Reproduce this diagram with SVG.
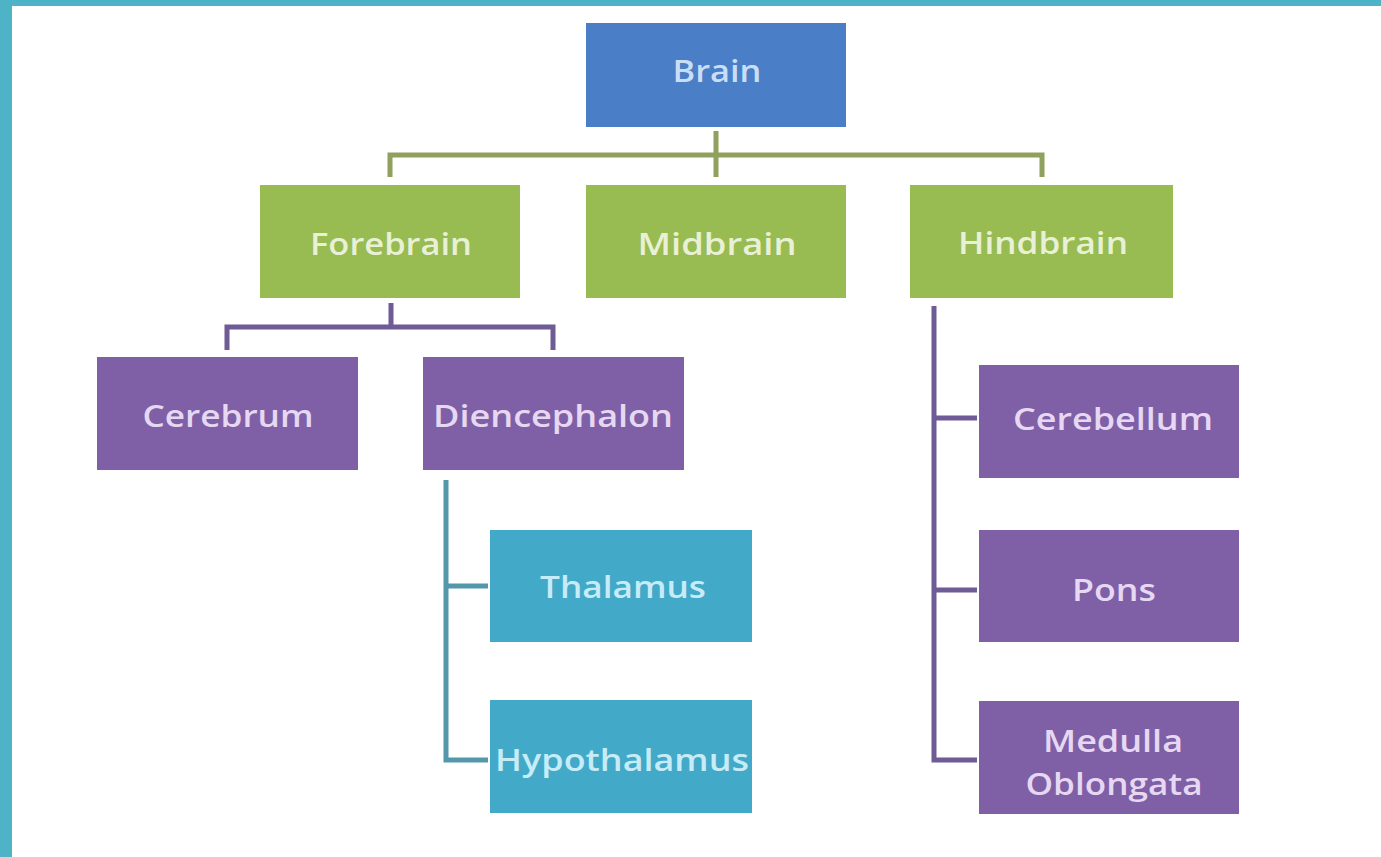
<svg xmlns="http://www.w3.org/2000/svg" width="1381" height="857" viewBox="0 0 1381 857">
<style>
.t{font-family:"Open Sans","Liberation Sans",sans-serif;font-size:31px;font-weight:600;text-anchor:middle}
.blue{fill:#4a7ec6}.green{fill:#98bb52}.purple{fill:#7f60a6}.teal{fill:#43a9c8}
.tb{fill:#c9def5}.tg{fill:#e8f1d5}.tp{fill:#e6d8f2}.tt{fill:#c6ecf7}
.cg{stroke:#8fa15c;stroke-width:5;fill:none}
.cp{stroke:#6f5b96;stroke-width:5;fill:none}
.ct{stroke:#5597aa;stroke-width:5;fill:none}
</style>
<rect x="0" y="0" width="1381" height="857" fill="#ffffff"/>
<rect x="0" y="0" width="1381" height="6" fill="#4fb3c8"/>
<rect x="0" y="0" width="12" height="857" fill="#4fb3c8"/>
<g id="connectors">
<path class="cg" d="M716 131V177M390 177V155H1042V177"/>
<path class="cp" d="M391 303V327M227 350V327H553V350"/>
<path class="ct" d="M446 480V760H488M446 586H488"/>
<path class="cp" d="M934 306V760H977M934 418H977M934 590H977"/>
</g>
<g id="brain"><rect class="blue" x="586" y="23" width="260" height="104"/><text class="t tb" x="717" y="82" textLength="89" lengthAdjust="spacingAndGlyphs">Brain</text></g>
<g id="forebrain"><rect class="green" x="260" y="185" width="260" height="113"/><text class="t tg" x="391" y="255" textLength="162" lengthAdjust="spacingAndGlyphs">Forebrain</text></g>
<g id="midbrain"><rect class="green" x="586" y="185" width="260" height="113"/><text class="t tg" x="717" y="255" textLength="159" lengthAdjust="spacingAndGlyphs">Midbrain</text></g>
<g id="hindbrain"><rect class="green" x="910" y="185" width="263" height="113"/><text class="t tg" x="1043" y="254" textLength="170" lengthAdjust="spacingAndGlyphs">Hindbrain</text></g>
<g id="cerebrum"><rect class="purple" x="97" y="357" width="261" height="113"/><text class="t tp" x="228" y="427" textLength="171" lengthAdjust="spacingAndGlyphs">Cerebrum</text></g>
<g id="diencephalon"><rect class="purple" x="423" y="357" width="261" height="113"/><text class="t tp" x="553" y="427" textLength="240" lengthAdjust="spacingAndGlyphs">Diencephalon</text></g>
<g id="thalamus"><rect class="teal" x="490" y="530" width="262" height="112"/><text class="t tt" x="623" y="598" textLength="166" lengthAdjust="spacingAndGlyphs">Thalamus</text></g>
<g id="hypothalamus"><rect class="teal" x="490" y="700" width="262" height="113"/><text class="t tt" x="622" y="771" textLength="254" lengthAdjust="spacingAndGlyphs">Hypothalamus</text></g>
<g id="cerebellum"><rect class="purple" x="979" y="365" width="260" height="113"/><text class="t tp" x="1113" y="430" textLength="200" lengthAdjust="spacingAndGlyphs">Cerebellum</text></g>
<g id="pons"><rect class="purple" x="979" y="530" width="260" height="112"/><text class="t tp" x="1114" y="601" textLength="84" lengthAdjust="spacingAndGlyphs">Pons</text></g>
<g id="medulla"><rect class="purple" x="979" y="701" width="260" height="113"/><text class="t tp" x="1113" y="752" textLength="140" lengthAdjust="spacingAndGlyphs">Medulla</text><text class="t tp" x="1114" y="795" textLength="177" lengthAdjust="spacingAndGlyphs">Oblongata</text></g>
</svg>
